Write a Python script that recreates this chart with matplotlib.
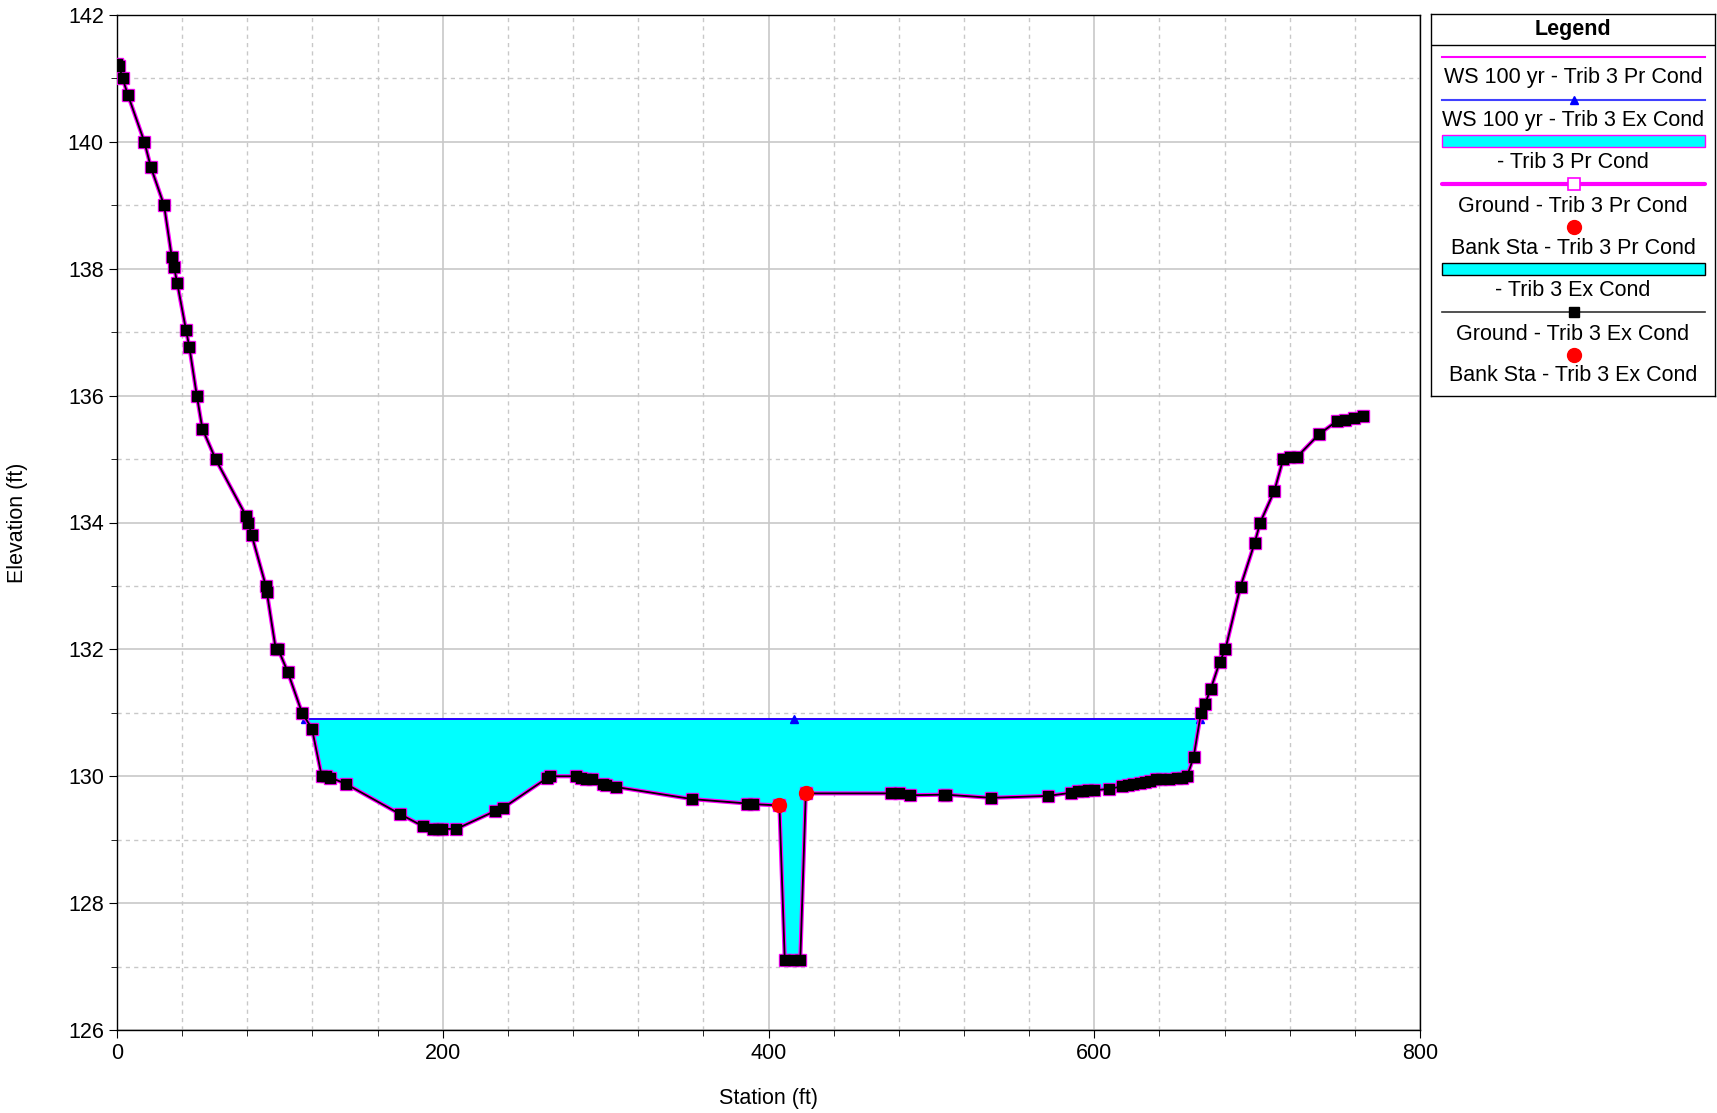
import numpy as np
import matplotlib
matplotlib.use("Agg")
import matplotlib.pyplot as plt
from matplotlib.ticker import MultipleLocator
from matplotlib.patches import Rectangle

plt.rcParams["font.family"] = ["Liberation Sans", "DejaVu Sans"]

# ground profile (same for Pr and Ex conditions)
ground_sta = [0, 1.3, 3.4, 6.7, 16.8, 20.8, 28.9, 33.6, 35, 37, 42.4, 44.4, 49, 52.4,
              60.5, 79.3, 80.7, 82.7, 91.4, 92, 97.5, 99, 104.9, 113.6, 119.7,
              125.7, 128.4, 131, 140.5, 174, 188, 194, 197, 199.5, 208.4, 232, 237,
              264, 266, 281.7, 285, 288, 291.8, 298.5, 300.5, 306.5, 353, 387, 390.6,
              406.7, 410, 414.8, 419.5, 422.9, 475, 480.4, 486.7, 507.6, 509,
              536.5, 571.4, 586, 590, 593, 596, 600, 609, 617, 621, 624, 628, 631,
              634, 638, 641, 646, 651, 654, 657, 661, 665.5, 668, 671.6, 677, 680.5,
              689.8, 698.5, 701.9, 710.6, 716, 720, 724.7, 738, 749, 754, 759.5, 765]
ground_elev = [141.22, 141.2, 141.0, 140.74, 140.0, 139.6, 139.0, 138.19, 138.03, 137.77,
               137.03, 136.77, 136.0, 135.48, 135.0, 134.1, 134.0, 133.8, 133.0, 132.9,
               132.0, 132.0, 131.64, 131.0, 130.75, 130.0, 130.0, 129.98, 129.88, 129.4,
               129.21, 129.17, 129.17, 129.17, 129.17, 129.45, 129.5, 129.97, 130.0,
               130.0, 129.98, 129.95, 129.95, 129.88, 129.86, 129.83, 129.64, 129.57,
               129.56, 129.54, 127.1, 127.1, 127.1, 129.73, 129.73, 129.73, 129.7,
               129.71, 129.71, 129.66, 129.69, 129.74, 129.76, 129.77, 129.78, 129.78,
               129.8, 129.84, 129.86, 129.87, 129.89, 129.91, 129.93, 129.95, 129.96,
               129.96, 129.97, 129.98, 130.0, 130.3, 131.0, 131.14, 131.38, 131.8,
               132.0, 132.99, 133.68, 134.0, 134.5, 135.0, 135.03, 135.04, 135.39,
               135.6, 135.62, 135.64, 135.68]

bank_sta = [406.7, 422.9]
bank_elev = [129.54, 129.73]

ws_elev = 130.9
ws_sta = [115.5, 415.5, 664.9]

legend_labels = ["WS 100 yr - Trib 3 Pr Cond", "WS 100 yr - Trib 3 Ex Cond",
                 "- Trib 3 Pr Cond", "Ground - Trib 3 Pr Cond",
                 "Bank Sta - Trib 3 Pr Cond", "- Trib 3 Ex Cond",
                 "Ground - Trib 3 Ex Cond", "Bank Sta - Trib 3 Ex Cond"]

W, H = 1717, 1113
FS = 15.5
fig = plt.figure(figsize=(W / 100, H / 100), dpi=100)
ax = fig.add_axes([117 / W, 1 - 1030 / H, (1420 - 117) / W, (1030 - 15) / H])

gx = np.array(ground_sta)
gy = np.array(ground_elev)

ax.fill_between(gx, gy, ws_elev, where=gy <= ws_elev, interpolate=True,
                color="#00ffff", lw=0, zorder=2)
ax.plot([ws_sta[0], ws_sta[-1]], [ws_elev, ws_elev], color="#ff00ff", lw=1.2, zorder=3)
ax.plot(ws_sta, [ws_elev] * len(ws_sta), color="#0000ff", lw=1.2, marker="^",
        ms=6, zorder=4)
ax.plot(gx, gy, color="#ff00ff", lw=3, marker="s", ms=8.5, mfc="#ff00ff",
        mec="#ff00ff", zorder=5)
ax.plot(gx, gy, color="black", lw=1.3, marker="s", ms=6.5, mfc="black",
        mec="black", zorder=6)
ax.plot(bank_sta, bank_elev, ls="none", marker="o", ms=10, color="red", zorder=7)

ax.set_xlim(0, 800)
ax.set_ylim(126, 142)
ax.xaxis.set_major_locator(MultipleLocator(200))
ax.xaxis.set_minor_locator(MultipleLocator(40))
ax.yaxis.set_major_locator(MultipleLocator(2))
ax.yaxis.set_minor_locator(MultipleLocator(1))
ax.grid(which="major", color="#c8c8c8", lw=1.2, ls="-", zorder=0)
ax.grid(which="minor", color="#c8c8c8", lw=1.0, ls=(0, (3, 3)), zorder=0)
ax.set_axisbelow(True)
ax.tick_params(which="major", direction="out", length=6, labelsize=FS, color="black")
ax.tick_params(which="minor", direction="out", length=4, color="black")
for s in ax.spines.values():
    s.set_linewidth(1.0)
ax.set_xlabel("Station (ft)", fontsize=FS, labelpad=17)
ax.set_ylabel("Elevation (ft)", fontsize=FS, labelpad=29)

# legend box drawn by hand, units are pixels from the top-left of the box
lx0, ly0, lx1, ly1 = 1431, 14, 1715, 396
lax = fig.add_axes([lx0 / W, 1 - ly1 / H, (lx1 - lx0) / W, (ly1 - ly0) / H])
lw_, lh_ = lx1 - lx0, ly1 - ly0
lax.set_xlim(0, lw_)
lax.set_ylim(lh_, 0)
lax.set_xticks([])
lax.set_yticks([])
for s in lax.spines.values():
    s.set_linewidth(1.0)
lax.text(lw_ / 2, 15, "Legend", ha="center", va="center", fontsize=FS, fontweight="bold")
lax.plot([0, lw_], [31, 31], color="black", lw=1.0)

sample_y = [43, 85.6, 127.3, 170, 212.7, 255.4, 298, 340.8]
text_y = [64, 106.5, 148, 192, 234.5, 276.5, 320, 361.5]
sx0, sx1, sxm = 11, 274, 142.5

lax.plot([sx0, sx1], [sample_y[0]] * 2, color="#ff00ff", lw=1.5)
lax.plot([sx0, sx1], [sample_y[1]] * 2, color="#4040ff", lw=1.5)
lax.plot([sxm], [sample_y[1]], marker="^", color="#0000ff", ms=6)
lax.add_patch(Rectangle((sx0, sample_y[2] - 6), sx1 - sx0, 12, fc="#00ffff", ec="#ff00ff", lw=1))
lax.plot([sx0, sx1], [sample_y[3]] * 2, color="#ff00ff", lw=3, solid_capstyle="round")
lax.plot([sxm], [sample_y[3]], marker="s", ms=8, mfc="white", mec="#ff00ff", mew=1.2)
lax.plot([sxm], [sample_y[4]], marker="o", ms=10, color="red")
lax.add_patch(Rectangle((sx0, sample_y[5] - 6), sx1 - sx0, 12, fc="#00ffff", ec="black", lw=1))
lax.plot([sx0, sx1], [sample_y[6]] * 2, color="#333333", lw=1.2)
lax.plot([sxm], [sample_y[6]], marker="s", ms=6.5, color="black")
lax.plot([sxm], [sample_y[7]], marker="o", ms=10, color="red")
for ty, lab in zip(text_y, legend_labels):
    lax.text(lw_ / 2, ty, lab, ha="center", va="center", fontsize=FS)

fig.savefig("out.png", dpi=100)
